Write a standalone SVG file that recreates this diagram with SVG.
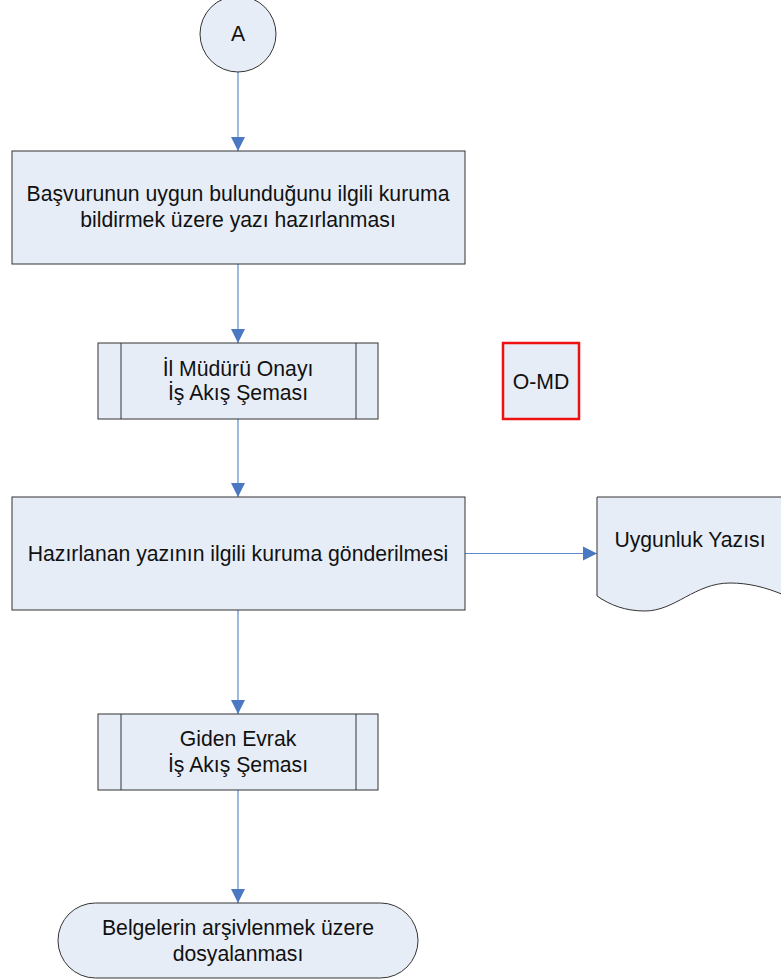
<svg xmlns="http://www.w3.org/2000/svg" width="781" height="980" viewBox="0 0 781 980">
<style>
.n{fill:#E7EDF7;stroke:#333;stroke-width:1}
.t{font-family:"Liberation Sans",Arial,sans-serif;font-size:21.2px;fill:#111;text-anchor:middle}
.c{fill:none;stroke:#5B8BCB;stroke-width:1.2}
</style>
<defs>
<marker id="ar" markerUnits="userSpaceOnUse" markerWidth="16" markerHeight="16" viewBox="0 0 16 16" refX="14" refY="8" orient="auto">
<path d="M0,1 L14,8 L0,15 Z" fill="#4A78C2"/>
</marker>
</defs>
<rect width="781" height="980" fill="#fff"/>
<g id="connectors">
<line class="c" x1="238" y1="72" x2="238" y2="151" marker-end="url(#ar)"/>
<line class="c" x1="238" y1="264" x2="238" y2="343" marker-end="url(#ar)"/>
<line class="c" x1="238" y1="419" x2="238" y2="497" marker-end="url(#ar)"/>
<line class="c" x1="465" y1="553.5" x2="597" y2="553.5" marker-end="url(#ar)"/>
<line class="c" x1="238" y1="610" x2="238" y2="714" marker-end="url(#ar)"/>
<line class="c" x1="238" y1="790" x2="238" y2="903" marker-end="url(#ar)"/>
</g>
<g id="nodeA">
<circle class="n" cx="238" cy="34" r="38"/>
<text class="t" x="238" y="41">A</text>
</g>
<g id="node1">
<rect class="n" x="12" y="151" width="453" height="113"/>
<text class="t" x="238" y="201">Başvurunun uygun bulunduğunu ilgili kuruma</text>
<text class="t" x="238" y="227">bildirmek üzere yazı hazırlanması</text>
</g>
<g id="node2">
<rect class="n" x="98" y="343" width="280" height="76"/>
<line x1="121" y1="343" x2="121" y2="419" stroke="#333"/>
<line x1="356" y1="343" x2="356" y2="419" stroke="#333"/>
<text class="t" x="238" y="376">İl Müdürü Onayı</text>
<text class="t" x="238" y="400">İş Akış Şeması</text>
</g>
<g id="nodeOMD">
<rect x="503" y="343" width="76" height="76" fill="#E7EDF7" stroke="#EE1111" stroke-width="2.5"/>
<text class="t" x="541" y="389">O-MD</text>
</g>
<g id="node3">
<rect class="n" x="12" y="497" width="453" height="113"/>
<text class="t" x="238" y="561">Hazırlanan yazının ilgili kuruma gönderilmesi</text>
</g>
<g id="nodeDoc">
<path class="n" d="M597,497 H784 V595 C765,587 748,583 730,583 C695,583 675,611 645,611 C625,611 610,605 597,596 Z"/>
<text class="t" x="690" y="547">Uygunluk Yazısı</text>
</g>
<g id="node4">
<rect class="n" x="98" y="714" width="280" height="76"/>
<line x1="121" y1="714" x2="121" y2="790" stroke="#333"/>
<line x1="356" y1="714" x2="356" y2="790" stroke="#333"/>
<text class="t" x="238" y="746">Giden Evrak</text>
<text class="t" x="238" y="772">İş Akış Şeması</text>
</g>
<g id="node5">
<rect class="n" x="58" y="903" width="360" height="75" rx="37.5" ry="37.5"/>
<text class="t" x="238" y="935">Belgelerin arşivlenmek üzere</text>
<text class="t" x="238" y="961">dosyalanması</text>
</g>
</svg>
